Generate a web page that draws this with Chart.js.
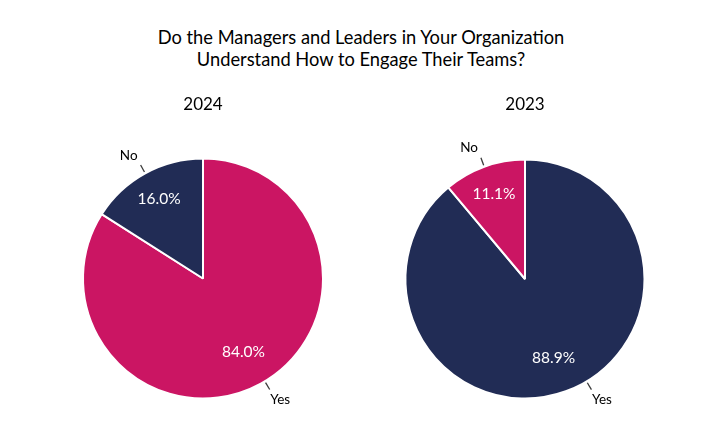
<!DOCTYPE html>
<html>
<head>
<meta charset="utf-8">
<script src="https://cdn.jsdelivr.net/npm/chart.js@4.4.1/dist/chart.umd.min.js"></script>
<style>
  html, body { margin:0; padding:0; background:#fff; }
  #wrap { position:relative; width:718px; height:445px; overflow:hidden; font-family: Lato, "Open Sans", sans-serif; }
  #title { position:absolute; left:0; top:27px; width:722px; text-align:center; font-size:18.3px; line-height:21.7px; color:#000; }
  canvas { position:absolute; }
</style>
</head>
<body>
<div id="wrap">
  <div id="title">Do the Managers and Leaders in Your Organization<br>Understand How to Engage Their Teams?</div>
  <canvas id="c1" style="left:23px; top:0px;" width="360" height="445"></canvas>
  <canvas id="c2" style="left:345px; top:0px;" width="360" height="445"></canvas>
</div>
<script>
const categories = ["Yes", "No"];
const values2024 = [84.0, 16.0];
const values2023 = [88.9, 11.1];
const colors2024 = ["#CB1563", "#212C55"];
const colors2023 = ["#212C55", "#CB1563"];
const years = ["2024", "2023"];

const FONT = 'Lato, "Open Sans", sans-serif';

// style: angle (degrees clockwise from top) where the outside label of large slices is anchored
const LARGE_SLICE_LABEL_DEG = 149;

const pieLabels = {
  id: 'pieLabels',
  afterDatasetsDraw(chart) {
    const ctx = chart.ctx;
    const meta = chart.getDatasetMeta(0);
    const data = chart.data.datasets[0].data;
    ctx.save();
    meta.data.forEach((arc, i) => {
      const p = arc.getProps(['x','y','startAngle','endAngle','outerRadius'], true);
      const mid = (p.startAngle + p.endAngle) / 2;
      const cx = Math.cos(mid), cy = Math.sin(mid);
      const R = p.outerRadius;
      const frac = (p.endAngle - p.startAngle) / (2 * Math.PI);
      const k = frac < 0.25 ? 0.76 : 0.70;
      // percent label inside
      ctx.fillStyle = '#ffffff';
      ctx.font = '15.5px ' + FONT;
      ctx.textAlign = 'center';
      ctx.textBaseline = 'middle';
      ctx.fillText(data[i].toFixed(1) + '%', p.x + cx * R * k, p.y + cy * R * k);
      // leader line
      let a = mid;
      if (frac > 0.5) a = (LARGE_SLICE_LABEL_DEG - 90) * Math.PI / 180;
      const ax = Math.cos(a), ay = Math.sin(a);
      const sx = p.x + ax * (R + 1.5), sy = p.y + ay * (R + 1.5);
      const ex = p.x + ax * (R + 9.5), ey = p.y + ay * (R + 9.5);
      ctx.strokeStyle = '#3a3a3a';
      ctx.lineWidth = 1.3;
      ctx.beginPath();
      ctx.moveTo(sx, sy);
      ctx.lineTo(ex, ey);
      ctx.stroke();
      // category label
      ctx.fillStyle = '#000000';
      ctx.font = '13.5px ' + FONT;
      ctx.textBaseline = 'alphabetic';
      if (ay > 0) {
        ctx.textAlign = 'left';
        ctx.fillText(chart.data.labels[i], ex + 0.5, ey + 14);
      } else {
        ctx.textAlign = 'right';
        ctx.fillText(chart.data.labels[i], ex - 3, ey - 5.5);
      }
    });
    ctx.restore();
  }
};

function makePie(id, year, values, colors, radius, padBottom) {
  return new Chart(document.getElementById(id), {
    type: 'pie',
    data: {
      labels: categories,
      datasets: [{
        data: values,
        backgroundColor: colors,
        borderColor: '#ffffff',
        borderWidth: 2,
        radius: radius
      }]
    },
    options: {
      responsive: false,
      animation: false,
      events: [],
      layout: { padding: { top: 94.1, bottom: padBottom, left: 0, right: 0 } },
      plugins: {
        legend: { display: false },
        tooltip: { enabled: false },
        title: {
          display: true,
          text: year,
          color: '#000',
          font: { family: FONT, size: 17, weight: 'normal', lineHeight: 1.2 },
          padding: { top: 0, bottom: 0 }
        }
      }
    },
    plugins: [pieLabels]
  });
}

makePie('c1', years[0], values2024, colors2024, 120, 2.5);
makePie('c2', years[1], values2023, colors2023, 119.5, 1.5);
</script>
</body>
</html>
